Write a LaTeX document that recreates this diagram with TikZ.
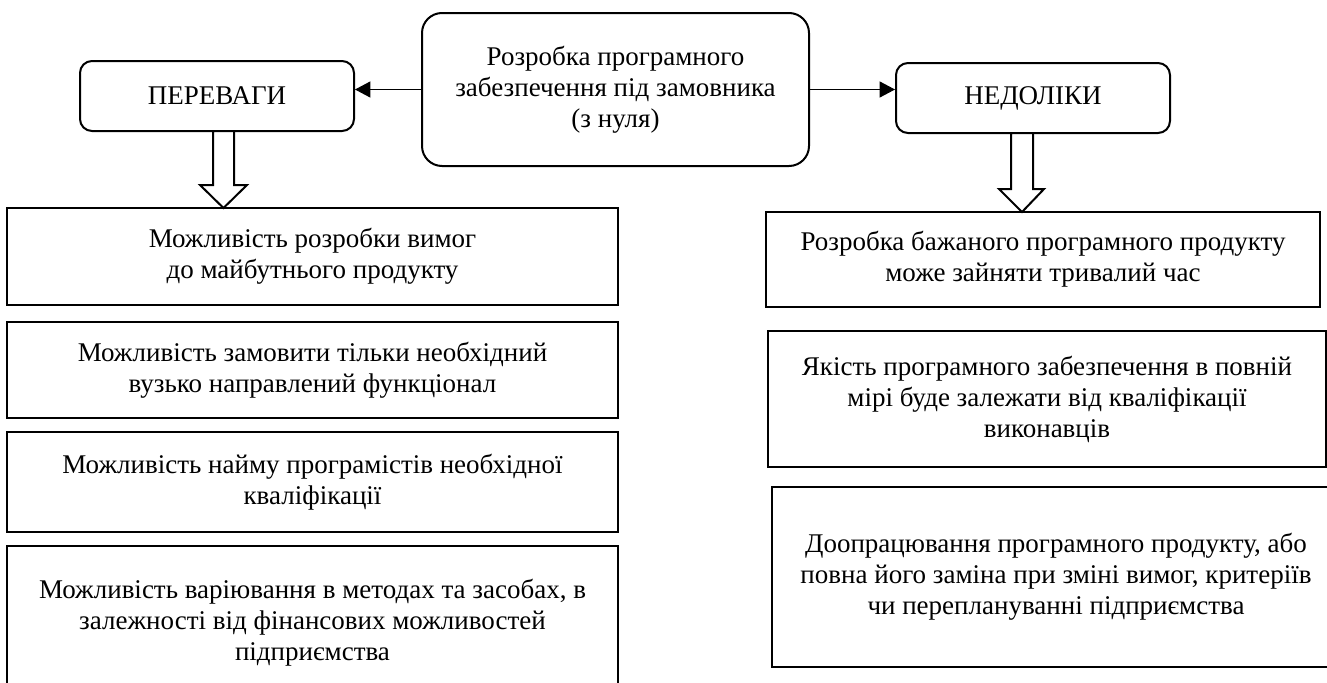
\documentclass[tikz,border=0pt]{standalone}
\usepackage{fontspec}
\setmainfont{Liberation Serif}
\usetikzlibrary{arrows.meta}
\begin{document}
\begin{tikzpicture}[x=0.75pt,y=-0.75pt,
    font=\fontsize{20.25pt}{23.25pt}\selectfont,
    headbox/.style={draw, line width=1.5pt, rounded corners=9pt, align=center, minimum width=205.5pt, minimum height=52.5pt},
    itembox/.style={draw, line width=1.5pt, align=center, inner sep=0pt},
    link/.style={line width=0.75pt, -{Triangle[length=11.5pt,width=12pt]}},
    bigarrow/.style={draw, line width=1.5pt, fill=white, line join=miter}]
\useasboundingbox (0,0) rectangle (1327,682);
\clip (0,0) rectangle (1327,682);
\node[itembox, rounded corners=15pt, minimum width=290.25pt, minimum height=114.75pt] (core) at (615.5,89.5) {Розробка програмного\\забезпечення під замовника\\(з нуля)};
\node[headbox] (pros) at (217,96) {ПЕРЕВАГИ};
\node[headbox] (cons) at (1033,98) {НЕДОЛІКИ};
\draw[link] (core.west) -- (core.west -| pros.east);
\draw[link] (core.east) -- (core.east -| cons.west);
\node[itembox, minimum width=458.25pt, minimum height=72.75pt] (pro1) at (312.5,256.5) {Можливість розробки вимог\\до майбутнього продукту};
\node[itembox, minimum width=458.25pt, minimum height=72pt] (pro2) at (312.5,370) {Можливість замовити тільки необхідний\\вузько направлений функціонал};
\node[itembox, minimum width=458.25pt, minimum height=75pt] (pro3) at (312.5,482) {Можливість найму програмістів необхідної\\кваліфікації};
\node[itembox, minimum width=458.25pt, minimum height=115.5pt] (pro4) at (312.5,623) {Можливість варіювання в методах та засобах, в\\залежності від фінансових можливостей\\підприємства};
\node[itembox, minimum width=415.5pt, minimum height=71.25pt] (con1) at (1043,259.5) {Розробка бажаного програмного продукту\\може зайняти тривалий час};
\node[itembox, minimum width=418.5pt, minimum height=102pt] (con2) at (1047,399) {Якість програмного забезпечення в повній\\мірі буде залежати від кваліфікації\\виконавців};
\node[itembox, minimum width=426pt, minimum height=135pt] (con3) at (1056,577) {Доопрацювання програмного продукту, або\\повна його заміна при зміні вимог, критеріїв\\чи переплануванні підприємства};
\draw[bigarrow] (213,131) -- (213,185) -- (200,185) -- (223.5,208) -- (247,185) -- (234,185) -- (234,131) -- cycle;
\draw[bigarrow] (1011,133) -- (1011,189) -- (999,189) -- (1022,212) -- (1044,189) -- (1033,189) -- (1033,133) -- cycle;
\end{tikzpicture}
\end{document}
